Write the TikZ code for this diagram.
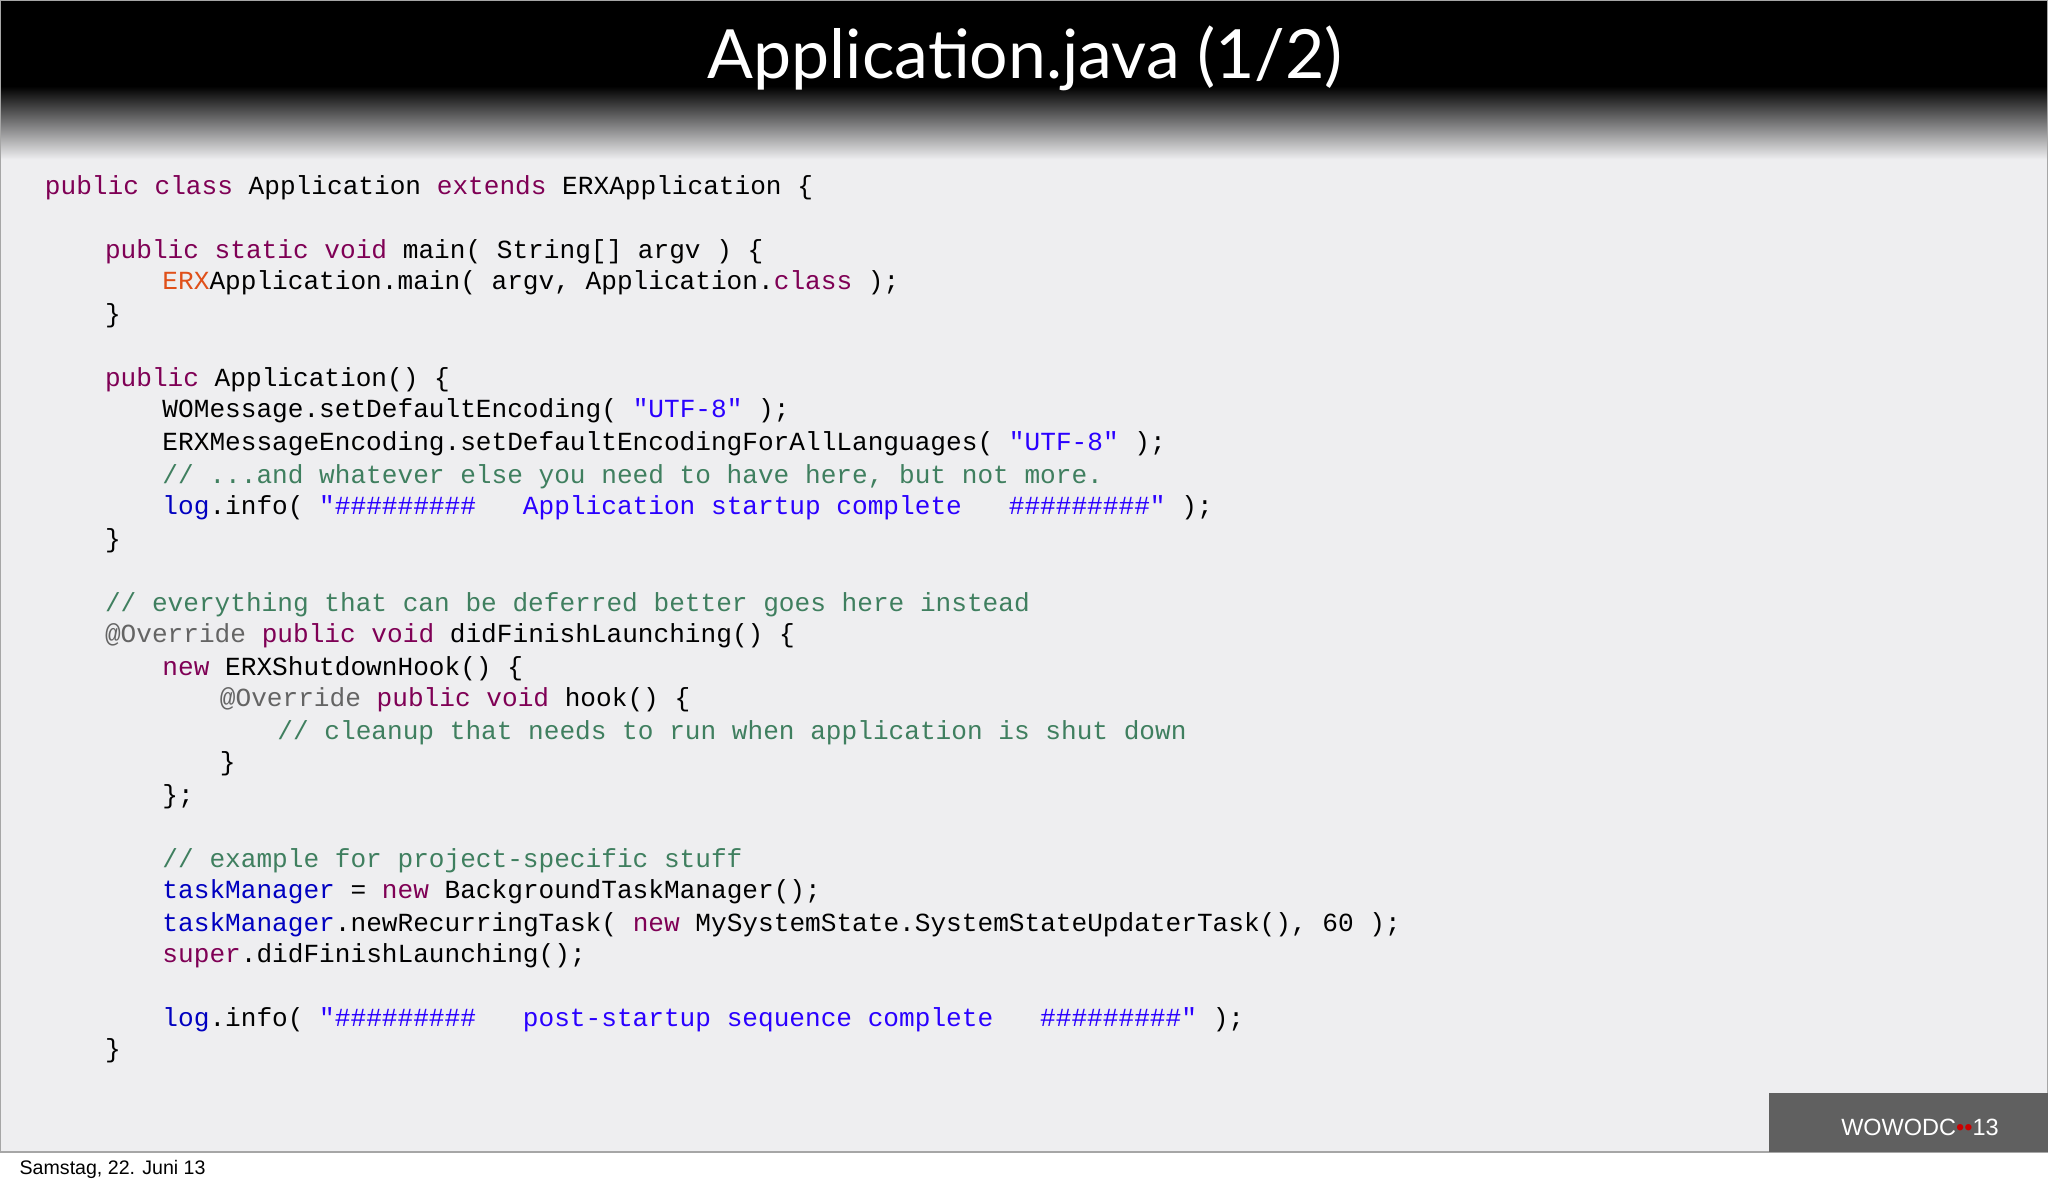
\documentclass[tikz,border=0pt]{standalone}
\usepackage{fontspec}
\setmonofont{Liberation Mono}
\newfontfamily\titlefont{Lato}
\newfontfamily\datefont{Liberation Sans}
\definecolor{kw}{HTML}{7F0055}
\definecolor{str}{HTML}{2A00FF}
\definecolor{cmt}{HTML}{3F7F5F}
\definecolor{ann}{HTML}{646464}
\definecolor{fld}{HTML}{0000C0}
\definecolor{erx}{HTML}{E0501A}
\definecolor{bg}{HTML}{EEEEF0}
\newcommand\K[1]{\textcolor{kw}{#1}}
\newcommand\Sq[1]{\textcolor{str}{#1}}
\newcommand\Cm[1]{\textcolor{cmt}{#1}}
\newcommand\An[1]{\textcolor{ann}{#1}}
\newcommand\Fd[1]{\textcolor{fld}{#1}}
\newcommand\SP{\hbox to 0.6em{}}
\newcommand\HH{\#\#\#\#\#\#\#\#\#}
\begin{document}
\begin{tikzpicture}[x=0.5pt,y=-0.5pt,
  code/.style={anchor=base west,inner sep=0,font=\ttfamily\fontsize{10pt}{12pt}\selectfont}]
\useasboundingbox (0,0) rectangle (1568,906);
\fill[white] (0,0) rectangle (1568,906);
\fill[bg] (0,0) rectangle (1568,882);
\fill[black] (0,0) rectangle (1568,66);
\shade[top color=black,bottom color=bg] (0,66) rectangle (1568,122);
\draw[gray!70,line width=0.6pt] (0.5,0.5) rectangle (1567.5,882);
\node[anchor=base,text=white,font=\titlefont\fontsize{26pt}{30pt}\selectfont] (title) at (785,60) {Application.java (1/2)};
\node[code] (l1) at (34,149) {\K{public class} Application \K{extends} ERXApplication \{};
\node[code] (l2) at (80,198) {\K{public static void} main( String[] argv ) \{};
\node[code] (l3) at (124,222) {\textcolor{erx}{ERX}Application.main( argv, Application.\K{class} );};
\node[code] (l4) at (80,247) {\}};
\node[code] (l5) at (80,296) {\K{public} Application() \{};
\node[code] (l6) at (124,320) {WOMessage.setDefaultEncoding( \Sq{"UTF-8"} );};
\node[code] (l7) at (124,345) {ERXMessageEncoding.setDefaultEncodingForAllLanguages( \Sq{"UTF-8"} );};
\node[code] (l8) at (124,370) {\Cm{// ...and whatever else you need to have here, but not more.}};
\node[code] (l9) at (124,394) {\Fd{log}.info( \Sq{"\HH\SP\SP\SP Application startup complete\SP\SP\SP\HH"} );};
\node[code] (l10) at (80,419) {\}};
\node[code] (l11) at (80,468) {\Cm{// everything that can be deferred better goes here instead}};
\node[code] (l12) at (80,492) {\An{@Override} \K{public void} didFinishLaunching() \{};
\node[code] (l13) at (124,517) {\K{new} ERXShutdownHook() \{};
\node[code] (l14) at (168,541) {\An{@Override} \K{public void} hook() \{};
\node[code] (l15) at (212,566) {\Cm{// cleanup that needs to run when application is shut down}};
\node[code] (l16) at (168,590) {\}};
\node[code] (l17) at (124,615) {\};};
\node[code] (l18) at (124,664) {\Cm{// example for project-specific stuff}};
\node[code] (l19) at (124,688) {\Fd{taskManager} = \K{new} BackgroundTaskManager();};
\node[code] (l20) at (124,713) {\Fd{taskManager}.newRecurringTask( \K{new} MySystemState.SystemStateUpdaterTask(), 60 );};
\node[code] (l21) at (124,737) {\K{super}.didFinishLaunching();};
\node[code] (l22) at (124,786) {\Fd{log}.info( \Sq{"\HH\SP\SP\SP post-startup sequence complete\SP\SP\SP\HH"} );};
\node[code] (l23) at (80,810) {\}};
\fill[gray!75!black] (1354,837) rectangle (1568,882);
\node[anchor=base,text=white,font=\datefont\fontsize{9pt}{10pt}\selectfont] (logo) at (1470,869) {WOWODC\textcolor{red!80!black}{\textbullet\textbullet}13};
\node[anchor=base west,font=\datefont\fontsize{7.5pt}{9pt}\selectfont] (date) at (8,899) {Samstag, 22. Juni 13};
\end{tikzpicture}
\end{document}
